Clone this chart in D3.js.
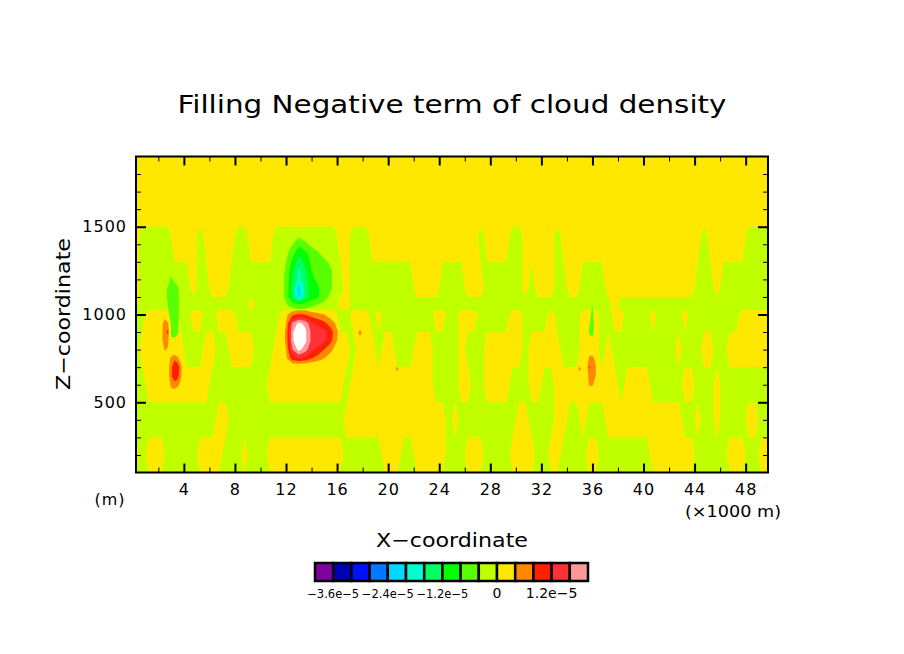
<!DOCTYPE html>
<html>
<head>
<meta charset="utf-8">
<script src="https://cdn.jsdelivr.net/npm/d3@7"></script>
<style>
  body { margin: 0; background: #fff; }
  svg { display: block; font-family: "DejaVu Sans", sans-serif; }
</style>
</head>
<body>
<svg id="chart" width="904" height="654"></svg>
<script>
// shading levels (1/s) and their colours, one colour per interval
var levels = [-4.0e-5, -3.6e-5, -3.2e-5, -2.8e-5, -2.4e-5, -2.0e-5, -1.6e-5, -1.2e-5,
              -8.0e-6, -4.0e-6, 0, 4.0e-6, 8.0e-6, 1.2e-5, 1.6e-5, 2.0e-5];
var shadeColors = ["#8000a0", "#0000b0", "#0010ff", "#0078ff", "#00d8ff", "#00ffd0", "#00ff60",
                   "#00ff00", "#58ff00", "#c0ff00", "#ffe800", "#ff8800", "#ff2000", "#ff3038", "#ff9898"];
var overColor = "#ffffff";
var barLabels = [-3.6e-5, -2.4e-5, -1.2e-5, 0, 1.2e-5];

var xMajor = [4, 8, 12, 16, 20, 24, 28, 32, 36, 40, 44, 48];
var xMinor = [2, 6, 10, 14, 18, 22, 26, 30, 34, 38, 42, 46];
var zMajor = [500, 1000, 1500];
var zMinor = [200, 300, 400, 600, 700, 800, 900, 1100, 1200, 1300, 1400, 1600, 1700, 1800];

// background field: layer centres (m) and the x ranges (km) where the value is slightly negative
var bandZ = [200, 400, 600, 800, 1000, 1050, 1150, 1450, 1550, 1750, 1950];
var bandGreen = [
  [[0.5,1.0],[2.6,5.0],[7.2,8.6],[9.0,10.6],[16.5,19.5],[20.8,21.8],[24.4,25.9],[27.7,29.6],[31.4,32.3],[33.6,35.7],[36.5,40.5],[44.0,46.3],[47.9,49.0]],
  [[0.25,6.3],[7.5,15.8],[16.0,16.5],[24.5,25.0],[25.3,29.8],[31.0,33.2],[34.0,35.0],[35.5,36.8],[43.2,44.0],[44.6,45.4],[46.1,47.9],[48.9,49.8]],
  [[0.25,1.2],[6.0,10.5],[16.3,17.2],[23.3,25.3],[26.3,27.6],[29.5,30.8],[32.0,33.0],[37.8,38.5],[40.5,43.2],[44.1,45.4],[46.0,49.8]],
  [[0.25,0.5],[4.0,5.3],[6.3,7.3],[9.5,11.0],[17.0,17.7],[18.9,19.5],[20.4,21.8],[23.5,25.4],[26.0,27.6],[30.5,31.2],[33.5,35.0],[36.5,37.2],[37.5,42.5],[43.2,44.3],[45.7,46.3]],
  [[0.2,0.8],[3.5,4.3],[5.5,6.5],[7.8,11.5],[16.0,17.2],[18.3,19.0],[19.5,23.5],[24.6,25.7],[26.8,29.3],[30.3,32.5],[33.0,35.2],[36.5,37.4],[38.3,40.3],[40.8,43.0],[43.5,47.7]],
  [[0.6,8.8],[9.4,16.2],[16.9,37.3],[37.9,49.8]],
  [[0.7,4.3],[5.2,6.1],[7.4,16.4],[16.9,21.8],[24.2,25.9],[27.6,30.6],[31.0,31.7],[33.0,33.9],[34.9,35.4],[35.6,36.9],[43.8,45.4],[45.8,47.9],[48.1,49.8]],
  [[0.7,2.9],[5.0,5.6],[7.9,8.9],[10.9,11.8],[12.2,15.8],[17.1,18.4],[26.8,27.5],[29.4,30.7],[32.9,33.4],[44.3,45.0],[48.1,49.8]],
  [], [], []
];

// local features, values in 1e-6 /s, rows from low to high z
var greenBlobX = [11.5, 12.0, 12.5, 13.0, 13.5, 14.0, 14.5, 15.0, 15.5, 16.0, 16.5];
var greenBlobZ = [1000, 1050, 1100, 1150, 1200, 1250, 1300, 1350, 1400, 1450, 1500];
var greenBlobV = [
  [-1, -1, -1, -1, -1, -1, -1, -1, -1, -1, -1],
  [-2, -3.5, -5, -6, -5.5, -4.5, -3.5, -2.5, -2, -1, -1],
  [-2, -5, -13, -21, -14, -10, -8.5, -5.5, -3, -2, -1],
  [-2, -5, -13, -22, -15, -10, -8.5, -6, -4.5, -2, -1],
  [-2, -5, -12, -17, -14, -9, -7, -6, -4.5, -2, -1],
  [-2, -4.5, -11, -17, -13, -8, -6.5, -5.5, -4.5, -2, -1],
  [-2, -4, -9, -14, -11, -7, -6, -5, -3, -2, -1],
  [-2, -3, -6, -11, -9, -6, -4.5, -2, -2, -1, -1],
  [-1, -2, -4, -7, -5, -3, -2, -2, -1, -1, -1],
  [-1, -1, -2, -3, -2, -1, -1, -1, -1, -1, -1],
  [-1, -1, -1, -1, -1, -1, -1, -1, -1, -1, -1]
];

var redBlobX = [11.5, 12.0, 12.5, 13.0, 13.5, 14.0, 14.5, 15.0, 15.5, 16.0, 16.5];
var redBlobZ = [700, 750, 800, 850, 900, 950, 1000, 1050];
var redBlobV = [
  [-1, -1, -1, -1, -1, -1, -1, -1, -1, -1, -1],
  [-1, 3, 10, 12, 11, 8, 6, 4, 2, 0, -1],
  [-1, 4, 16, 21.5, 18, 13, 11, 8, 5, 2, -1],
  [-1, 5, 19, 26, 21, 15, 14, 13, 9, 4, -1],
  [-1, 5, 19, 26, 21, 15, 14, 13.5, 10, 4.5, 0],
  [-1, 4, 17, 21, 19, 13, 11, 9, 6, 3, -1],
  [-1, 3, 7, 8.5, 8, 6, 5, 4, 2, 0, -1],
  [-1, -1, -1, -1, -1, -1, -1, -1, -1, -1, -1]
];

var leftSpotX = [2.0, 2.25, 2.5, 2.75, 3.0, 3.25, 3.5, 3.75, 4.0];
var leftSpotZ = [550, 600, 650, 700, 750, 800, 850, 900, 950, 1000, 1050, 1100, 1150, 1200, 1250, 1300];
var leftSpotV = [
  [0, 0, 0, 0, 2, 2, 1, 0, 0],
  [0, 0, 0, 1, 5, 6, 5, 3, 0],
  [0, 0, 0, 2, 7, 11, 10, 5, 0],
  [0, 0, 0, 2, 7, 11, 11, 6, 0],
  [0, 0, 0, 2, 5, 7, 5, 2, 0],
  [0, 1, 4.5, 3.5, 0, 0, 0, 0, 0],
  [0, 3, 6, 5, -3, -3, -2, 0, 0],
  [0, 3, 6.5, 9, -5, -6, -5, -2, 0],
  [0, 2.5, 6, 5, -5, -6, -5, -2, 0],
  [0, 0, 2, -3, -6, -6.5, -5.5, -2, 0],
  [0, 0, -2, -4, -6.5, -6.5, -5.5, -2, 0],
  [0, 0, -2, -5, -6.5, -6.5, -5.5, -2, 0],
  [0, 0, -2, -4.5, -6, -6, -5, -2, 0],
  [0, 0, 0, -2, -5, -3, -2, 0, 0],
  [0, 0, 0, 0, -2, -2, 0, 0, 0],
  [0, 0, 0, 0, 0, 0, 0, 0, 0]
];

var rightSpotX = [35.25, 35.5, 35.75, 36.0, 36.25, 36.5];
var rightSpotZ = [550, 600, 650, 700, 750, 800, 850, 900, 950, 1000, 1050, 1100];
var rightSpotV = [
  [0, 0, 1, 1, 0, 0],
  [0, 0, 4.5, 4.5, 2, 0],
  [0, 0, 6, 6, 4, 0],
  [0, 1, 8.5, 7, 4.5, 0],
  [0, 0, 5, 5, 3, 0],
  [0, 0, 1, 2, 1, 0],
  [0, 0, -2, -3, 0, 0],
  [0, -1, -4.5, -5.5, -2, 0],
  [0, 0, -3.5, -5.5, -2, 0],
  [0, 0, -3, -5, -2, 0],
  [0, 0, 0, -4.2, 0, 0],
  [0, 0, 0, 0, 0, 0]
];

var spotAX = [17.5, 17.8, 18.1], spotAZ = [850, 895, 940];
var spotAV = [[0, 0, 0], [0, 7, 0], [0, 0, 0]];
var spotBX = [20.4, 20.7, 21.0], spotBZ = [650, 690, 730];
var spotBV = [[0, 0, 0], [0, 6, 0], [0, 0, 0]];
var spotCX = [34.7, 35.0, 35.3], spotCZ = [650, 690, 730];
var spotCV = [[0, 0, 0], [0, 6, 0], [0, 0, 0]];

var svg = d3.select("#chart");
var plot = {left: 136, right: 768, top: 156.5, bottom: 472.5};

var x = d3.scaleLinear().domain([0.25, 49.75]).range([plot.left, plot.right]);
var y = d3.scaleLinear().domain([100, 1900]).range([plot.bottom, plot.top]);

svg.append("rect").attr("width", 904).attr("height", 654).attr("fill", "#fff");

svg.append("clipPath").attr("id", "plotclip")
  .append("rect")
    .attr("x", plot.left).attr("y", plot.top)
    .attr("width", plot.right - plot.left).attr("height", plot.bottom - plot.top);

var field = svg.append("g").attr("clip-path", "url(#plotclip)");

field.append("rect")
  .attr("x", plot.left).attr("y", plot.top)
  .attr("width", plot.right - plot.left).attr("height", plot.bottom - plot.top)
  .attr("fill", shadeColors[9]);

function levelIndex(v) {
  return Math.round((v * 1e-6 - levels[0]) / 4e-6);
}

// contour a grid; values in 1e-6, flip=true shades the negative side
function drawField(xs, zs, rows, thresholds, flip, colorOf) {
  var n = xs.length, m = zs.length;
  var gx = d3.scaleLinear().domain(xs.map(function (d, i) { return i + 0.5; })).range(xs);
  var gz = d3.scaleLinear().domain(zs.map(function (d, j) { return j + 0.5; })).range(zs);
  var path = d3.geoPath(d3.geoTransform({
    point: function (px, py) { this.stream.point(x(gx(px)), y(gz(py))); }
  }));
  var flat = [];
  rows.forEach(function (r) { r.forEach(function (v) { flat.push(flip ? -v : v); }); });
  var cs = d3.contours().size([n, m]).thresholds(thresholds)(flat);
  field.append("g")
    .selectAll("path")
    .data(cs)
    .join("path")
      .attr("d", path)
      .attr("fill", function (c) { return colorOf(c.value); })
      .attr("stroke", "none");
}

function posColor(t) {
  var k = levelIndex(t);
  return k >= shadeColors.length ? overColor : shadeColors[k];
}
function negColor(t) {
  return shadeColors[levelIndex(-t) - 1];
}

// background: yellow where the field is >= 0
var colX = d3.range(100).map(function (i) { return 0.25 + 0.5 * i; });
var bgRows = bandGreen.map(function (ranges) {
  return colX.map(function (cx) {
    var neg = ranges.some(function (r) { return cx >= r[0] && cx <= r[1]; });
    return neg ? -2 : 2;
  });
});
drawField(colX, bandZ, bgRows, [0], false, posColor);

var posT = [4, 8, 12, 16, 20];
var negT = [4, 8, 12, 16, 20];
[[leftSpotX, leftSpotZ, leftSpotV], [rightSpotX, rightSpotZ, rightSpotV],
 [greenBlobX, greenBlobZ, greenBlobV]].forEach(function (f) {
  drawField(f[0], f[1], f[2], negT, true, negColor);
});
[[leftSpotX, leftSpotZ, leftSpotV], [rightSpotX, rightSpotZ, rightSpotV],
 [redBlobX, redBlobZ, redBlobV], [spotAX, spotAZ, spotAV],
 [spotBX, spotBZ, spotBV], [spotCX, spotCZ, spotCV]].forEach(function (f) {
  drawField(f[0], f[1], f[2], posT, false, posColor);
});

// frame and ticks
function styleAxis(g, width) {
  g.select(".domain").remove();
  g.selectAll(".tick line").attr("stroke", "#000").attr("stroke-width", width);
  g.selectAll("text").attr("font-size", 16).attr("fill", "#000")
    .attr("font-family", "DejaVu Sans, sans-serif").attr("letter-spacing", 1);
}

svg.append("g").attr("transform", "translate(0," + plot.bottom + ")")
  .call(d3.axisBottom(x).tickValues(xMajor).tickSize(-9).tickPadding(11).tickFormat(d3.format("d")))
  .call(styleAxis, 2);
svg.append("g").attr("transform", "translate(0," + plot.bottom + ")")
  .call(d3.axisBottom(x).tickValues(xMinor).tickSize(-5).tickFormat(""))
  .call(styleAxis, 1);
svg.append("g").attr("transform", "translate(0," + plot.top + ")")
  .call(d3.axisTop(x).tickValues(xMajor).tickSize(-9).tickFormat(""))
  .call(styleAxis, 2);
svg.append("g").attr("transform", "translate(0," + plot.top + ")")
  .call(d3.axisTop(x).tickValues(xMinor).tickSize(-5).tickFormat(""))
  .call(styleAxis, 1);
svg.append("g").attr("transform", "translate(" + plot.left + ",0)")
  .call(d3.axisLeft(y).tickValues(zMajor).tickSize(-10).tickPadding(9).tickFormat(d3.format("d")))
  .call(styleAxis, 2);
svg.append("g").attr("transform", "translate(" + plot.left + ",0)")
  .call(d3.axisLeft(y).tickValues(zMinor).tickSize(-5).tickFormat(""))
  .call(styleAxis, 1);
svg.append("g").attr("transform", "translate(" + plot.right + ",0)")
  .call(d3.axisRight(y).tickValues(zMajor).tickSize(-10).tickFormat(""))
  .call(styleAxis, 2);
svg.append("g").attr("transform", "translate(" + plot.right + ",0)")
  .call(d3.axisRight(y).tickValues(zMinor).tickSize(-5).tickFormat(""))
  .call(styleAxis, 1);

svg.append("rect")
  .attr("x", plot.left).attr("y", plot.top)
  .attr("width", plot.right - plot.left).attr("height", plot.bottom - plot.top)
  .attr("fill", "none").attr("stroke", "#000").attr("stroke-width", 2);

// titles
svg.append("text")
  .attr("x", 452).attr("y", 113)
  .attr("text-anchor", "middle").attr("font-size", 25)
  .attr("textLength", 549).attr("lengthAdjust", "spacingAndGlyphs")
  .text("Filling Negative term of cloud density");

svg.append("text")
  .attr("x", 452).attr("y", 547)
  .attr("text-anchor", "middle").attr("font-size", 20)
  .attr("textLength", 152).attr("lengthAdjust", "spacingAndGlyphs")
  .text("X\u2212coordinate");

svg.append("text")
  .attr("transform", "translate(70,314) rotate(-90)")
  .attr("text-anchor", "middle").attr("font-size", 20)
  .attr("textLength", 152).attr("lengthAdjust", "spacingAndGlyphs")
  .text("Z\u2212coordinate");

svg.append("text")
  .attr("x", 110).attr("y", 505)
  .attr("text-anchor", "middle").attr("font-size", 16).attr("letter-spacing", 1)
  .text("(m)");

svg.append("text")
  .attr("x", 733).attr("y", 517)
  .attr("text-anchor", "middle").attr("font-size", 16)
  .attr("textLength", 96).attr("lengthAdjust", "spacingAndGlyphs")
  .text("(\u00d71000 m)");

// colour bar
var cb = d3.scaleLinear().domain([levels[0], levels[levels.length - 1]]).range([315, 588]);
var bar = svg.append("g");
bar.selectAll("rect")
  .data(shadeColors)
  .join("rect")
    .attr("x", function (d, i) { return cb(levels[i]); })
    .attr("y", 563)
    .attr("width", function (d, i) { return cb(levels[i + 1]) - cb(levels[i]); })
    .attr("height", 18)
    .attr("fill", function (d) { return d; })
    .attr("stroke", "#000")
    .attr("stroke-width", 2.5);

function barFormat(v) {
  if (v === 0) return "0";
  return (v / 1e-5).toFixed(1).replace("-", "\u2212") + "e\u22125";
}

bar.selectAll("text")
  .data(barLabels)
  .join("text")
    .attr("x", function (d) { return cb(d); })
    .attr("y", 598)
    .attr("text-anchor", "middle")
    .attr("font-size", function (d) { return d < 0 ? 11.5 : 14; })
    .text(barFormat);
</script>
</body>
</html>
